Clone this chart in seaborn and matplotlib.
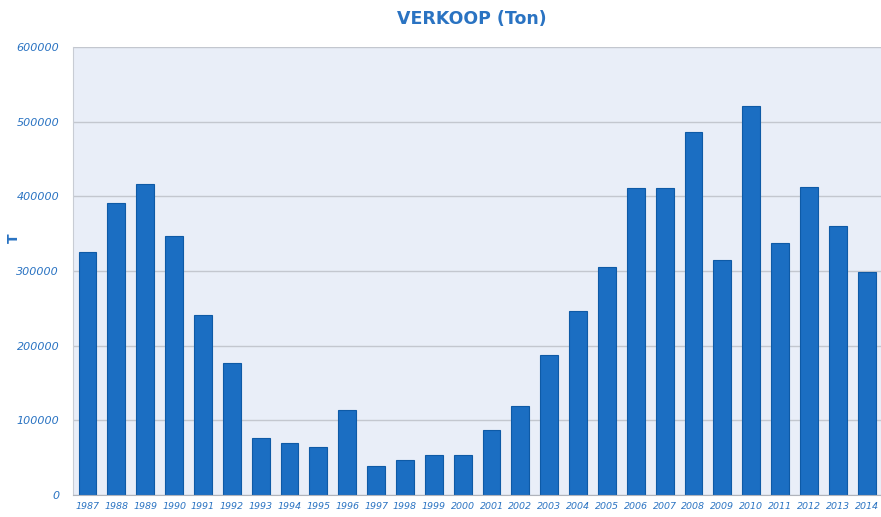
import numpy as np
import pandas as pd
import matplotlib
matplotlib.use("Agg")
import matplotlib.pyplot as plt
import seaborn as sns

# sales per year
years = [str(y) for y in range(1987, 2015)]
tonnes = [325000, 391000, 416000, 347000, 241000, 177000, 76000, 70000,
          64000, 114000, 39000, 47000, 53000, 53000, 87000, 119000,
          187000, 246000, 305000, 411000, 411000, 486000, 315000, 521000,
          337000, 412000, 360000, 298000]
y_ticks = [0, 100000, 200000, 300000, 400000, 500000, 600000]

data = pd.DataFrame({"Jaar": years, "Ton": tonnes})

sns.set_style("white")
plt.rcParams["font.family"] = ["DejaVu Sans"]

blue = "#1b6ec2"
text_blue = "#2a73c2"

fig = plt.figure(figsize=(8.81, 5.17), dpi=100)
ax = fig.add_axes([0.083, 0.043, 0.917, 0.866])
ax.set_facecolor("#e9eef8")

# grid behind the bars
ax.set_axisbelow(True)
ax.yaxis.grid(True, color="#c3c7cf", linewidth=1.0)

sns.barplot(data=data, x="Jaar", y="Ton", color=blue, width=0.62,
            edgecolor="#0e5aa6", linewidth=0.8, saturation=1, ax=ax)

ax.set_ylim(0, 600000)
ax.set_xlim(-0.5, len(years) - 0.5)
ax.set_yticks(y_ticks)
ax.set_yticklabels([str(t) for t in y_ticks], fontsize=8, style="italic",
                   color=text_blue)
ax.set_xticklabels(years, fontsize=6.8, style="italic", color=text_blue)

# small tick marks between categories on the x axis
ax.set_xticks(np.arange(-0.5, len(years), 1), minor=True)
ax.tick_params(axis="x", which="major", length=0, pad=5)
ax.tick_params(axis="x", which="minor", length=4, color="#b0b4bc")
ax.tick_params(axis="y", length=4, color="#b0b4bc", pad=6)

for side in ["top", "right"]:
    ax.spines[side].set_visible(False)
ax.spines["left"].set_color("#c8ccd4")
ax.spines["bottom"].set_color("#b0b4bc")

ax.set_xlabel("")
ax.set_ylabel("")
fig.text(0.016, 0.54, "T", rotation=90, ha="center", va="center",
         fontsize=10, fontweight="bold", color=text_blue)
fig.text(0.535, 0.963, "VERKOOP (Ton)", ha="center", va="center",
         fontsize=12.5, fontweight="bold", color=text_blue)

fig.savefig("out.png", dpi=100)
